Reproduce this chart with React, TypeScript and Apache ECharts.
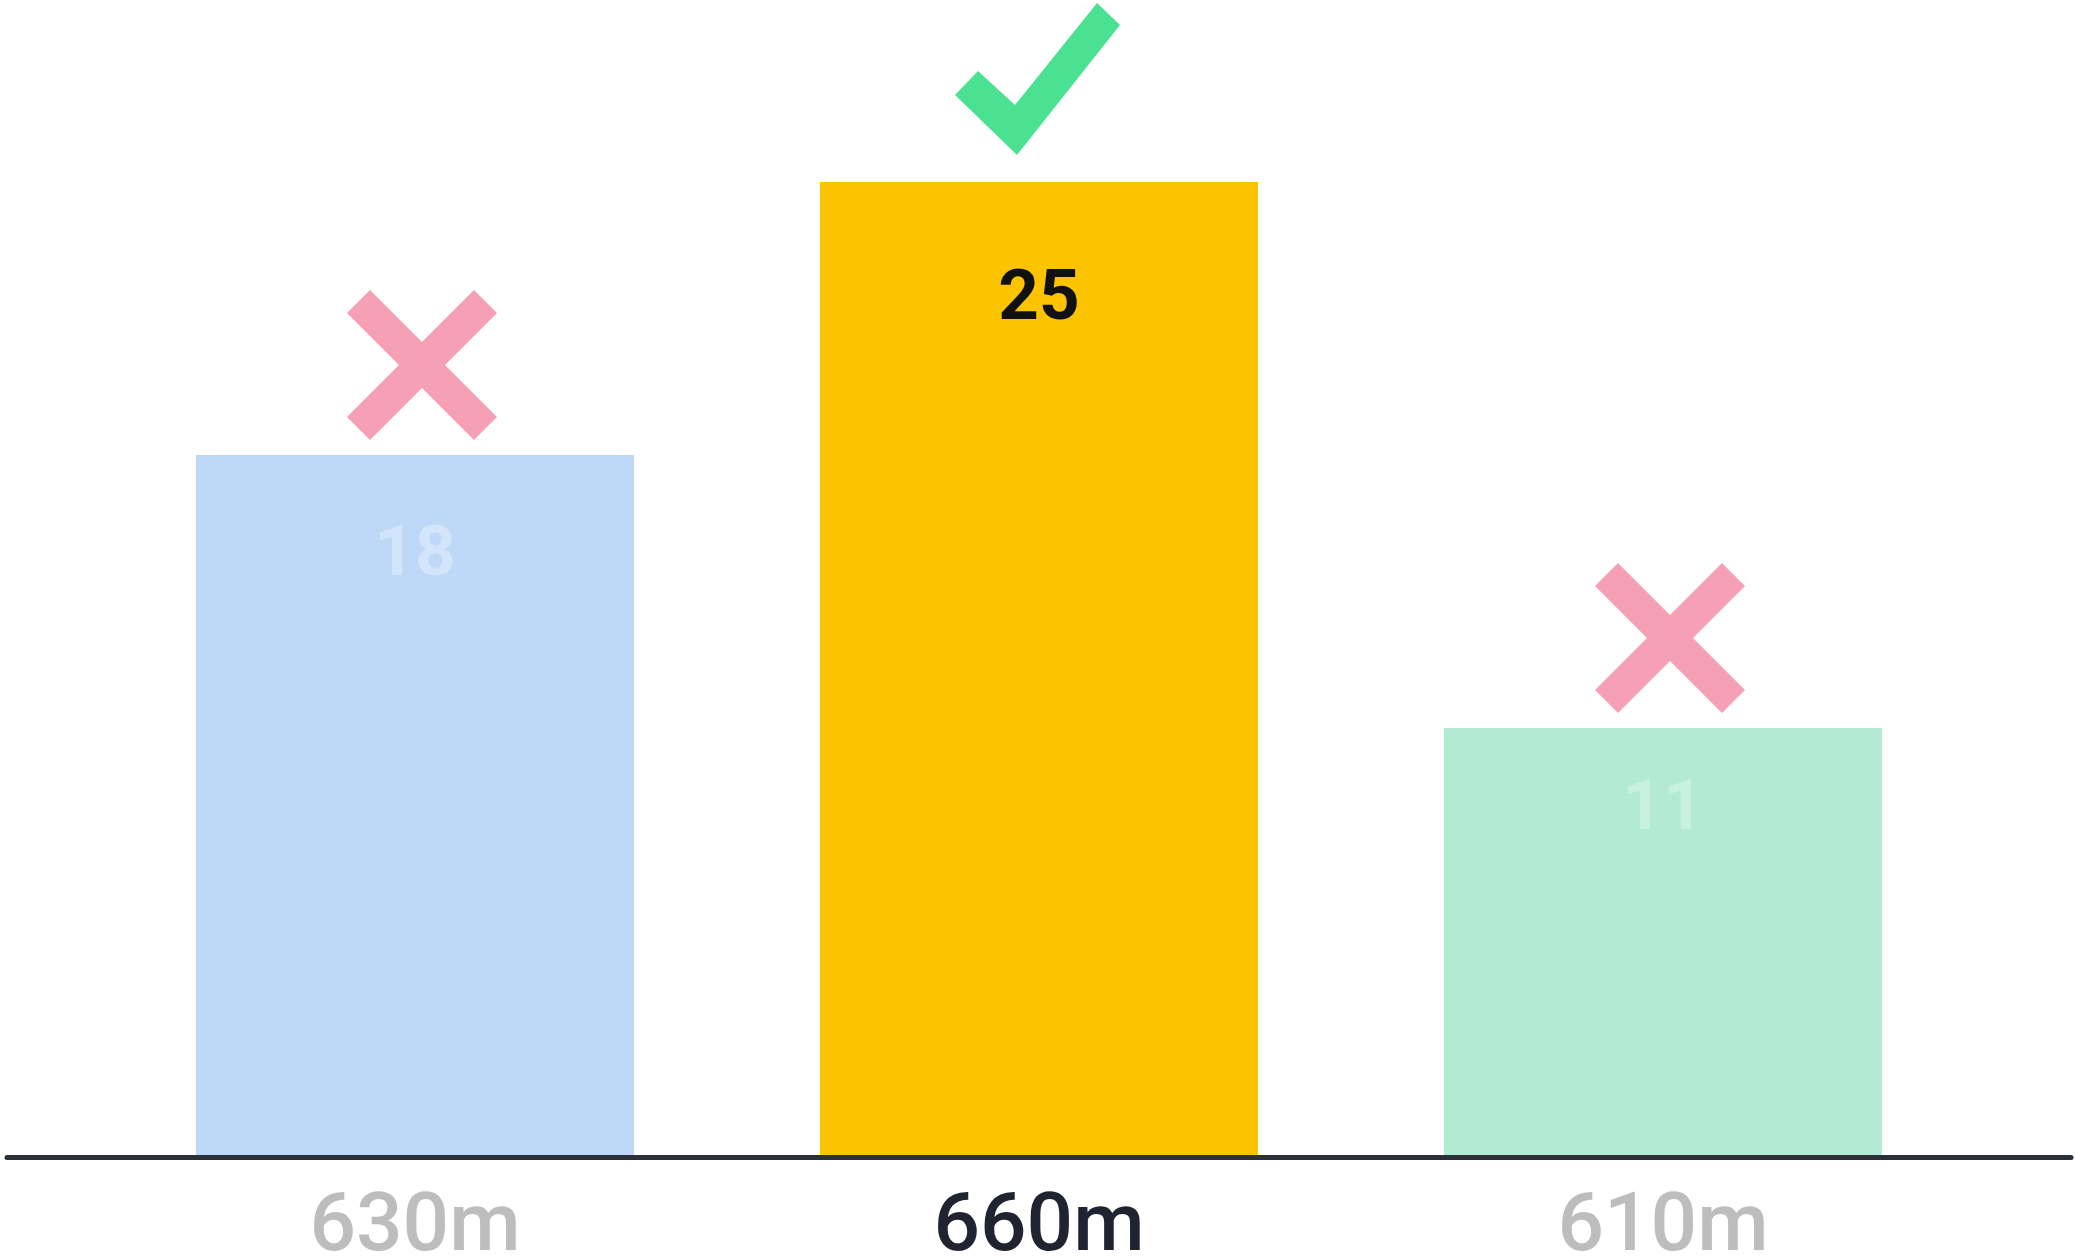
import React, { useEffect, useRef } from "react";
import * as echarts from "echarts";

// ---- data ----
const categories = ["630m", "660m", "610m"];
const values = [18, 25, 11];
const verdicts = ["cross", "check", "cross"];
const highlighted = [false, true, false];

// ---- styles (kept apart from data) ----
const barColors = ["#BED9F7", "#FCC400", "#B3EAD3"];
const valueLabelColors = ["#D3E5FB", "#111111", "#C9F1DF"];
const valueLabelOffsets = [95, 112, 76];
const CROSS_PATH =
  "path://M23,0 L75,52 L127,0 L150,23 L98,75 L150,127 L127,150 L75,98 L23,150 L0,127 L52,75 L0,23 Z";
const CHECK_PATH = "path://M0,92 L23,68 L60,102 L142,0 L165,22 L62,152 Z";
const markStyle: Record<string, any> = {
  cross: { symbol: CROSS_PATH, size: [150, 150], offset: [7, -90], color: "#F5A0B4" },
  check: { symbol: CHECK_PATH, size: [165, 152], offset: [-1.5, -103], color: "#4BE192" },
};
const FONT = "Roboto";

export default function App() {
  const ref = useRef<HTMLDivElement>(null);
  useEffect(() => {
    if (!ref.current) return;
    const chart = echarts.init(ref.current, null, { renderer: "svg" });
    const option: any = {
      animation: false,
      backgroundColor: "#ffffff",
      grid: [
        { left: 103, right: 100, top: 65, bottom: 100, containLabel: false, outerBoundsMode: "none" },
        { left: 7, right: 4, top: 65, bottom: 100, containLabel: false, outerBoundsMode: "none" },
      ],
      xAxis: [
        {
          type: "category",
          gridIndex: 0,
          data: categories.map((c, i) => ({
            value: c,
            textStyle: { color: highlighted[i] ? "#1F2430" : "#BDBDBD" },
          })),
          axisLine: { show: false },
          axisTick: { show: false },
          axisLabel: {
            fontFamily: FONT,
            fontSize: 82,
            fontWeight: 500,
            lineHeight: 50,
            margin: 40,
          },
        },
        {
          type: "category",
          gridIndex: 1,
          data: [""],
          z: 5,
          axisLine: { show: true, lineStyle: { color: "#2B2F38", width: 5 } },
          axisTick: { show: false },
          axisLabel: { show: false },
        },
      ],
      yAxis: [
        { type: "value", gridIndex: 0, min: 0, max: 28, show: false, splitLine: { show: false } },
        { type: "value", gridIndex: 1, min: 0, max: 28, show: false, splitLine: { show: false } },
      ],
      series: [
        {
          type: "bar",
          xAxisIndex: 0,
          yAxisIndex: 0,
          barWidth: 438,
          silent: true,
          data: values.map((v, i) => ({
            value: v,
            itemStyle: { color: barColors[i] },
            label: {
              color: valueLabelColors[i],
              position: ["50%", valueLabelOffsets[i]],
            },
          })),
          label: {
            show: true,
            formatter: "{c}",
            align: "center",
            verticalAlign: "middle",
            fontFamily: FONT,
            fontSize: 71,
            fontWeight: "bold",
          },
        },
        {
          type: "scatter",
          xAxisIndex: 0,
          yAxisIndex: 0,
          silent: true,
          z: 4,
          data: values.map((v, i) => {
            const m = markStyle[verdicts[i]];
            return {
              value: v,
              symbol: m.symbol,
              symbolSize: m.size,
              symbolOffset: m.offset,
              itemStyle: { color: m.color, opacity: 1 },
            };
          }),
        },
      ],
    };
    chart.setOption(option);
    return () => chart.dispose();
  }, []);
  return (
    <div
      ref={ref}
      style={{ position: "fixed", left: 0, top: 0, width: "2075px", height: "1257px" }}
    />
  );
}
